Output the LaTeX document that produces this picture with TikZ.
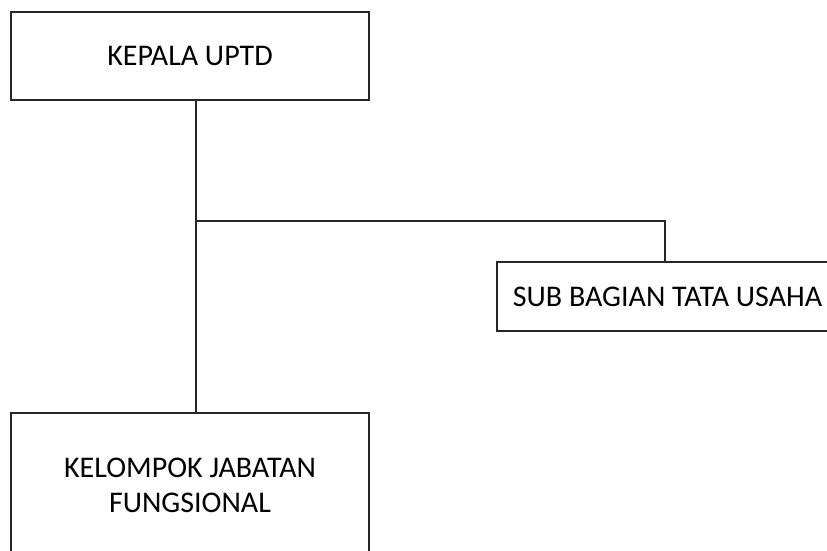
\documentclass[tikz,border=0pt]{standalone}
\usepackage{fontspec}
\setmainfont{Carlito}
\begin{document}
\begin{tikzpicture}[x=1pt,y=-1pt,
  box/.style={draw=black!85,line width=1.3pt,rectangle,inner sep=0pt,font=\fontsize{30}{35}\selectfont,align=center},
  conn/.style={draw=black!85,line width=1.3pt}]
\useasboundingbox (0,0) rectangle (827,550);
\fill[white] (0,0) rectangle (827,550);
\node[box,minimum width=358pt,minimum height=88pt] (kepala) at (190,56) {KEPALA UPTD};
\node[box,minimum width=341pt,minimum height=69pt] (sub) at (667.5,296.5) {SUB BAGIAN TATA USAHA};
\node[box,minimum width=358pt,minimum height=144pt] (kel) at (190,485) {KELOMPOK JABATAN\\FUNGSIONAL};
\coordinate (j) at (196,221);
\coordinate (k) at (665,221);
\draw[conn] (kepala.south -| j) -- (kel.north -| j);
\draw[conn] (j) -- (k) -- (sub.north -| k);
\end{tikzpicture}
\end{document}
